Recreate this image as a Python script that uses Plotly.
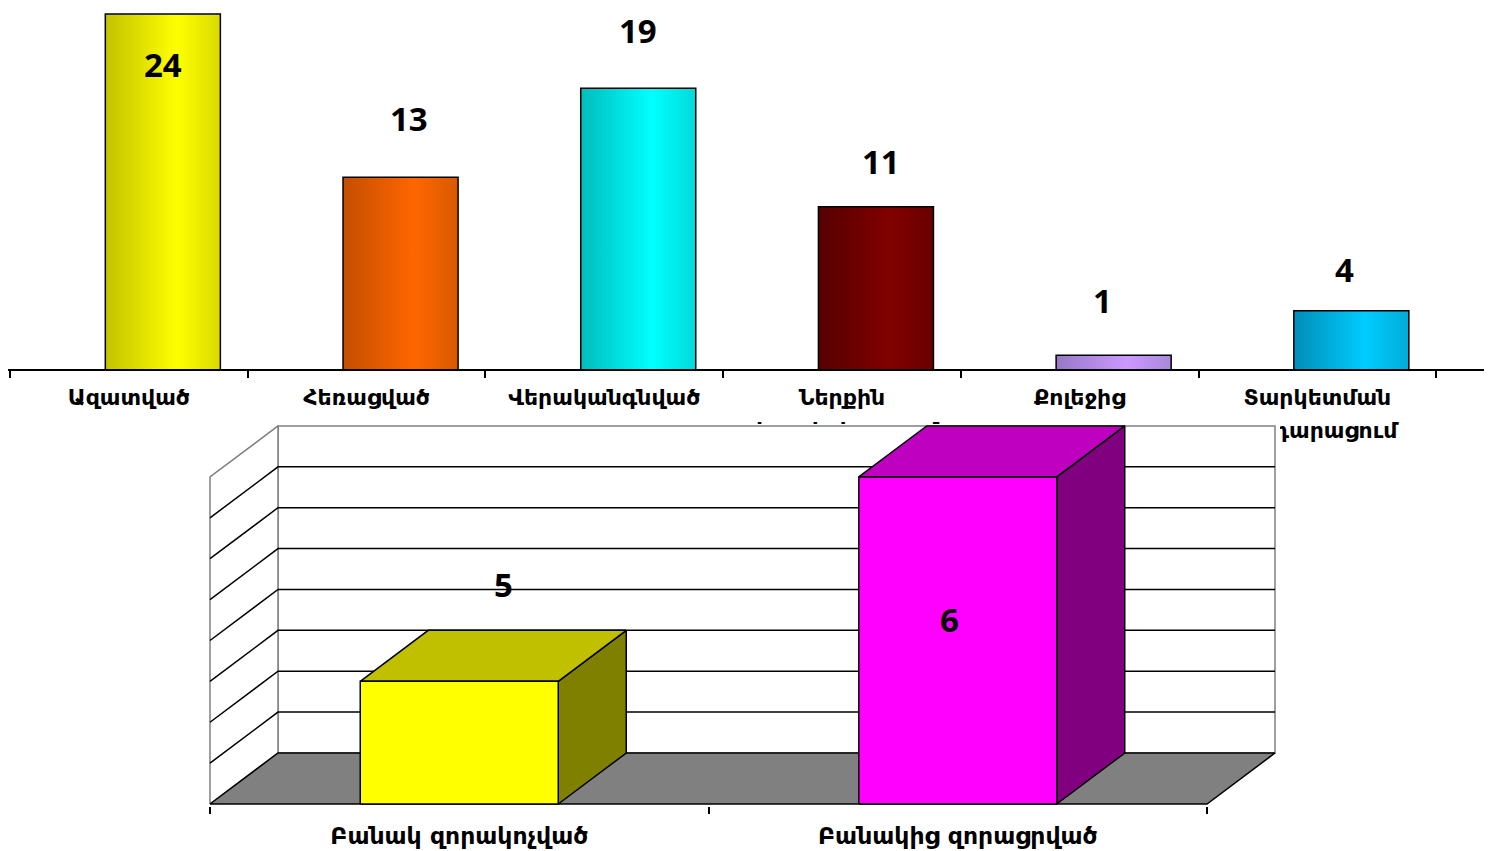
import plotly.graph_objects as go

# ---------------- data ----------------
top_categories = ["Ազատված", "Հեռացված", "Վերականգնված", "Ներքին", "Քոլեջից", "Տարկետման"]
top_categories_line2 = ["", "", "", "տեղափոխություն", "", "դադարացում"]
top_values = [24, 13, 19, 11, 1, 4]

bottom_categories = ["Բանակ զորակոչված", "Բանակից զորացրված"]
bottom_values = [5, 6]
bottom_axis_min = 4.4
bottom_axis_max = 6.0
bottom_axis_step = 0.2

# ---------------- styles ----------------
top_colors = [
    ("#c2c200", "#ffff00", "#dada00"),
    ("#c44e00", "#ff6600", "#d85a00"),
    ("#00bcbc", "#00ffff", "#00dada"),
    ("#560000", "#820000", "#680000"),
    ("#9878c6", "#cc99ff", "#aa88da"),
    ("#008eb8", "#00ccff", "#00acd8"),
]
top_label_shift = [-50, 59, 58, 45, 55, 41]  # px, positive = above bar top
top_label_xshift = [0, 8, 0, 5, -11, -7]
bottom_colors = [("#ffff00", "#c0c000", "#808000"), ("#ff00ff", "#c000c0", "#800080")]
bottom_label_dx = [0.088, -0.016]
bottom_label_shift = [97, -143]

# page offset (body margin) compensation
OFF = 8
W, H = 1492 - OFF, 851 - OFF


def fx(px):
    return (px - OFF) / W


def fy(py):
    return (H - (py - OFF)) / H


FONT_LBL = dict(family="DejaVu Sans", size=22, color="black", weight="bold")
FONT_LBL_B = dict(family="DejaVu Sans", size=23.5, color="black", weight="bold")
FONT_VAL = dict(family="Open Sans", size=33, color="black", weight="bold")

# ---- top chart geometry (reference pixel coordinates) ----
CAT_PX = 237.7
X0_PX = 10
TOP_BASE_PX = 370
TOP_PXU = 356 / 24.0
TOP_DOM_BOTTOM_PX = 452
top_xrange = [-0.5 - (X0_PX - OFF) / CAT_PX, -0.5 + (1492 - X0_PX) / CAT_PX]
top_yrange = [-(TOP_DOM_BOTTOM_PX - TOP_BASE_PX) / TOP_PXU, (TOP_BASE_PX - OFF) / TOP_PXU]
BAR_W = 0.484
BAR_SHIFT = 0.143

fig = go.Figure()

for i, (v, c) in enumerate(zip(top_values, top_colors)):
    cx = i + BAR_SHIFT
    x0, x1 = cx - BAR_W / 2, cx + BAR_W / 2
    fig.add_trace(go.Scatter(
        x=[x0, x1, x1, x0, x0], y=[0, 0, v, v, 0],
        mode="lines", fill="toself",
        line=dict(color="black", width=1.5),
        fillgradient=dict(type="horizontal",
                          colorscale=[[0, c[0]], [0.62, c[1]], [1, c[2]]]),
        xaxis="x", yaxis="y", hoverinfo="skip", showlegend=False))

L1_Y = -(399 - TOP_BASE_PX) / TOP_PXU
L2_Y = -(432 - TOP_BASE_PX) / TOP_PXU
fig.add_trace(go.Scatter(
    x=list(range(len(top_categories))), y=[L1_Y] * len(top_categories),
    mode="text", text=top_categories, textfont=FONT_LBL, cliponaxis=False,
    xaxis="x", yaxis="y", hoverinfo="skip", showlegend=False))
fig.add_trace(go.Scatter(
    x=list(range(len(top_categories))), y=[L2_Y] * len(top_categories),
    mode="text", text=top_categories_line2, textfont=FONT_LBL, cliponaxis=False,
    xaxis="x", yaxis="y", hoverinfo="skip", showlegend=False))

annotations = []
for i, v in enumerate(top_values):
    annotations.append(dict(x=i + BAR_SHIFT, y=v, xref="x", yref="y", text=str(v),
                            showarrow=False, yshift=top_label_shift[i],
                            xshift=top_label_xshift[i], font=FONT_VAL,
                            xanchor="center", yanchor="middle"))

# ---- bottom 3D chart geometry ----
B_CAT_PX = 498.5
B_PXU = 204.4
B_FRONT_LEFT_PX = 210
B_FRONT_BASE_PX = 804
DX = 68 / B_CAT_PX
DY = 51 / B_PXU
dom_l, dom_r, dom_t, dom_b = 206, 1280, 424, 806
bx_range = [-0.5 - (B_FRONT_LEFT_PX - dom_l) / B_CAT_PX,
            -0.5 + (dom_r - B_FRONT_LEFT_PX) / B_CAT_PX]
by_range = [bottom_axis_min - (dom_b - B_FRONT_BASE_PX) / B_PXU,
            bottom_axis_min + (B_FRONT_BASE_PX - dom_t) / B_PXU]

n = len(bottom_categories)
xl, xr = -0.5, n - 0.5
y0, y1 = bottom_axis_min, bottom_axis_max


def poly(xs, ys, fill, line_color, lw=1.5):
    fig.add_trace(go.Scatter(x=xs, y=ys, mode="lines", fill="toself", fillcolor=fill,
                             line=dict(color=line_color, width=lw),
                             xaxis="x2", yaxis="y2", hoverinfo="skip", showlegend=False))


# back wall and left wall (white)
poly([xl + DX, xr + DX, xr + DX, xl + DX, xl + DX],
     [y0 + DY, y0 + DY, y1 + DY, y1 + DY, y0 + DY], "white", "#808080")
poly([xl, xl + DX, xl + DX, xl, xl],
     [y0, y0 + DY, y1 + DY, y1, y0], "white", "#808080")
# floor
poly([xl, xr, xr + DX, xl + DX, xl],
     [y0, y0, y0 + DY, y0 + DY, y0], "#808080", "black")

# gridlines
gx, gy = [], []
k = 1
while bottom_axis_min + k * bottom_axis_step < bottom_axis_max - 1e-9:
    g = bottom_axis_min + k * bottom_axis_step
    gx += [xl, xl + DX, xr + DX, None]
    gy += [g, g + DY, g + DY, None]
    k += 1
fig.add_trace(go.Scatter(x=gx, y=gy, mode="lines", line=dict(color="black", width=1.5),
                         xaxis="x2", yaxis="y2", hoverinfo="skip", showlegend=False))

BW = 198 / B_CAT_PX
for i, (v, c) in enumerate(zip(bottom_values, bottom_colors)):
    a, b = i - BW / 2, i + BW / 2
    poly([b, b + DX, b + DX, b, b], [y0, y0 + DY, v + DY, v, y0], c[2], "black")
    poly([a, b, b + DX, a + DX, a], [v, v, v + DY, v + DY, v], c[1], "black")
    poly([a, b, b, a, a], [y0, y0, v, v, y0], c[0], "black")
    annotations.append(dict(x=i + bottom_label_dx[i], y=v, xref="x2", yref="y2", text=str(v),
                            showarrow=False, yshift=bottom_label_shift[i], font=FONT_VAL,
                            xanchor="center", yanchor="middle"))

fig.update_layout(
    width=W, height=H,
    margin=dict(l=0, r=0, t=0, b=0),
    paper_bgcolor="white", plot_bgcolor="white",
    showlegend=False,
    annotations=annotations,
    xaxis=dict(domain=[0, 1], range=top_xrange, anchor="free", position=fy(TOP_BASE_PX),
               showline=True, linecolor="black", linewidth=2,
               tickmode="array", tickvals=[k - 0.5 for k in range(len(top_categories) + 1)],
               ticks="outside", ticklen=7, tickwidth=1.5, tickcolor="black",
               showticklabels=False, showgrid=False, zeroline=False, fixedrange=True),
    yaxis=dict(domain=[fy(TOP_DOM_BOTTOM_PX), 1], range=top_yrange, anchor="x",
               visible=False, fixedrange=True),
    xaxis2=dict(domain=[fx(dom_l), fx(dom_r)], range=bx_range, anchor="y2",
                showline=False, showgrid=False, zeroline=False,
                tickmode="array", tickvals=list(range(n)), ticktext=bottom_categories,
                ticks="", tickfont=FONT_LBL_B,
                minor=dict(tickmode="array", tickvals=[k - 0.5 for k in range(n + 1)],
                           ticks="outside", ticklen=7, tickwidth=1.5, tickcolor="black",
                           showgrid=False),
                ticklabelstandoff=13, fixedrange=True),
    yaxis2=dict(domain=[fy(dom_b), fy(dom_t)], range=by_range, anchor="x2",
                visible=False, fixedrange=True),
)

fig.write_html("out.html")
